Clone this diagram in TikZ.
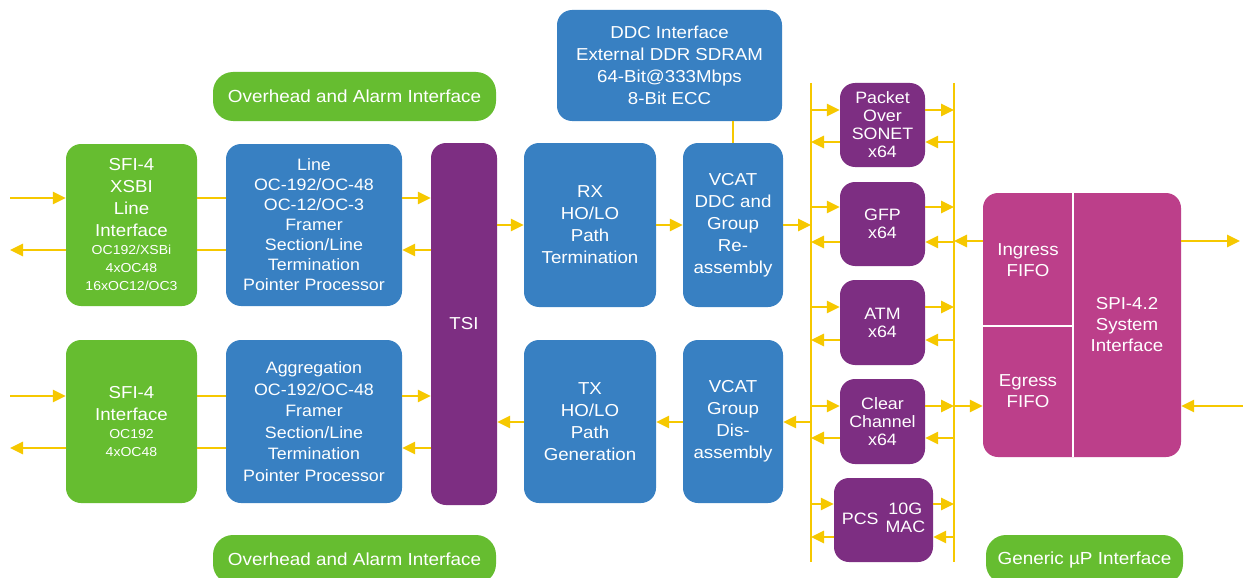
\documentclass[tikz,border=0pt]{standalone}
\usepackage{fontspec}
\setmainfont{Liberation Sans}[FakeStretch=1.08]
\usetikzlibrary{arrows.meta}
\definecolor{blkgreen}{HTML}{66BD30}
\definecolor{blkblue}{HTML}{3880C2}
\definecolor{blkpurple}{HTML}{7D2E82}
\definecolor{blkmagenta}{HTML}{BC3F8A}
\definecolor{busyellow}{HTML}{F6C800}
\newcommand\subtxt[1]{{\fontsize{13}{17}\selectfont #1}}

\begin{document}
\begin{tikzpicture}[x=1pt,y=-1pt,
   blk/.style={rounded corners=15pt, text=white, align=center, inner sep=0pt, font=\fontsize{17.3}{22}\selectfont},
   grn/.style={blk, fill=blkgreen},
   blu/.style={blk, fill=blkblue},
   prp/.style={blk, fill=blkpurple, font=\fontsize{16.5}{18}\selectfont},
   tag/.style={blk, fill=blkgreen, rounded corners=20pt, minimum height=49pt, font=\fontsize{17.5}{21}\selectfont},
   txt/.style={text=white, align=center, inner sep=0pt, font=\fontsize{17.3}{21}\selectfont},
   arr/.style={draw=busyellow, line width=2.6pt, -{Triangle[length=13pt,width=12pt]}},
   ln/.style={draw=busyellow, line width=2.6pt}]
   \clip (0,0) rectangle (1243,578);
   \fill[white] (0,0) rectangle (1243,578);

   % interface tags
   \node[tag, minimum width=283pt] (ohTop) at (354.5,96.5) {Overhead and Alarm Interface};
   \node[tag, minimum width=283pt] (ohBot) at (354.5,559.5) {Overhead and Alarm Interface};
   \node[tag, minimum width=197pt] (gup) at (1084.5,559.5) {Generic µP Interface};

   % line side
   \node[grn, minimum width=131pt, minimum height=162pt] (sfiA) at (131.5,225)
      {SFI-4\\XSBI\\Line\\Interface\\[-4pt]\subtxt{OC192/XSBi}\\[-4pt]\subtxt{4xOC48}\\[-4pt]\subtxt{16xOC12/OC3}};
   \node[grn, minimum width=131pt, minimum height=163pt] (sfiB) at (131.5,421.5)
      {SFI-4\\Interface\\[-4pt]\subtxt{OC192}\\[-4pt]\subtxt{4xOC48}};
   \node[blu, minimum width=176pt, minimum height=162pt, font=\fontsize{16.5}{20}\selectfont] (frmA) at (314,225)
      {Line\\OC-192/OC-48\\OC-12/OC-3\\Framer\\Section/Line\\Termination\\Pointer Processor};
   \node[blu, minimum width=176pt, minimum height=163pt, font=\fontsize{16.5}{21.6}\selectfont] (frmB) at (314,421.5)
      {Aggregation\\OC-192/OC-48\\Framer\\Section/Line\\Termination\\Pointer Processor};
   \node[blk, fill=blkpurple, minimum width=66pt, minimum height=362pt] (tsi) at (464,324) {TSI};

   % path and vcat
   \node[blu, minimum width=132pt, minimum height=164pt] (rx) at (590,225) {RX\\HO/LO\\Path\\Termination};
   \node[blu, minimum width=132pt, minimum height=163pt] (tx) at (590,421.5) {TX\\HO/LO\\Path\\Generation};
   \node[blu, minimum width=100pt, minimum height=164pt] (vcatA) at (733,225) {VCAT\\DDC and\\Group\\Re-\\assembly};
   \node[blu, minimum width=100pt, minimum height=163pt] (vcatB) at (733,421.5) {VCAT\\Group\\Dis-\\assembly};
   \node[blu, minimum width=225pt, minimum height=111pt] (ddc) at (669.5,65.5)
      {DDC Interface\\External DDR SDRAM\\64-Bit@333Mbps\\8-Bit ECC};

   % mappers
   \node[prp, minimum width=85pt, minimum height=84pt] (pos) at (882.5,125) {Packet\\Over\\SONET\\x64};
   \node[prp, minimum width=85pt, minimum height=84pt] (gfp) at (882.5,224) {GFP\\x64};
   \node[prp, minimum width=85pt, minimum height=85pt] (atm) at (882.5,322.5) {ATM\\x64};
   \node[prp, minimum width=85pt, minimum height=85pt] (clr) at (882.5,421.5) {Clear\\Channel\\x64};
   \node[prp, minimum width=99pt, minimum height=84pt] (pcs) at (883.5,520)
      {PCS\hspace{7pt}\begin{tabular}{@{}c@{}}10G\\MAC\end{tabular}};

   % system side
   \node[blk, fill=blkmagenta, minimum width=198pt, minimum height=264pt] (spi) at (1082,325) {};
   \draw[white, line width=1.5pt] (1073,193) -- (1073,457);
   \draw[white, line width=1.5pt] (983,326) -- (1073,326);
   \node[txt] (ingr) at (1028,260) {Ingress\\FIFO};
   \node[txt] (egr) at (1028,391) {Egress\\FIFO};
   \node[txt] (sysif) at (1127,325) {SPI-4.2\\System\\Interface};

   % connectors, line side
   \coordinate (inA) at (10,198);
   \coordinate (outA) at (10,250);
   \coordinate (inB) at (10,396);
   \coordinate (outB) at (10,448);
   \draw[arr] (inA) -- (inA -| sfiA.west);
   \draw[arr] (sfiA.west |- outA) -- (outA);
   \draw[arr] (inB) -- (inB -| sfiB.west);
   \draw[arr] (sfiB.west |- outB) -- (outB);
   \draw[ln] (sfiA.east |- inA) -- (frmA.west |- inA);
   \draw[ln] (sfiA.east |- outA) -- (frmA.west |- outA);
   \draw[ln] (sfiB.east |- inB) -- (frmB.west |- inB);
   \draw[ln] (sfiB.east |- outB) -- (frmB.west |- outB);
   \draw[arr] (frmA.east |- inA) -- (tsi.west |- inA);
   \draw[arr] (tsi.west |- outA) -- (frmA.east |- outA);
   \draw[arr] (frmB.east |- inB) -- (tsi.west |- inB);
   \draw[arr] (tsi.west |- outB) -- (frmB.east |- outB);

   % connectors, path side
   \coordinate (rowA) at (0,225);
   \coordinate (rowB) at (0,422);
   \coordinate (busLt) at (811,83);
   \coordinate (busLb) at (811,562);
   \coordinate (busRt) at (954,83);
   \coordinate (busRb) at (954,562);
   \draw[ln, line width=2.4pt] (busLt) -- (busLb);
   \draw[ln, line width=2.4pt] (busRt) -- (busRb);
   \draw[arr] (tsi.east |- rowA) -- (rx.west |- rowA);
   \draw[arr] (rx.east |- rowA) -- (vcatA.west |- rowA);
   \draw[arr] (vcatA.east |- rowA) -- (busLt |- rowA);
   \draw[arr] (tx.west |- rowB) -- (tsi.east |- rowB);
   \draw[arr] (vcatB.west |- rowB) -- (tx.east |- rowB);
   \draw[arr] (busLt |- rowB) -- (vcatB.east |- rowB);
   \draw[ln, line width=2pt] (vcatA.north) -- (vcatA.north |- ddc.south);

   \foreach \blk/\ya/\yb in {pos/110/142, gfp/207/242, atm/307/340, clr/406/438, pcs/504/537} {
      \draw[arr] (busLt |- 0,\ya) -- (\blk.west |- 0,\ya);
      \draw[arr] (\blk.west |- 0,\yb) -- (busLt |- 0,\yb);
      \draw[arr] (\blk.east |- 0,\ya) -- (busRt |- 0,\ya);
      \draw[arr] (busRt |- 0,\yb) -- (\blk.east |- 0,\yb);
   }

   % connectors, system side
   \coordinate (sysOut) at (1240,241);
   \coordinate (sysIn) at (1243,406);
   \draw[arr] (spi.east |- sysOut) -- (sysOut);
   \draw[arr] (sysIn) -- (sysIn -| spi.east);
   \draw[arr] (spi.west |- sysOut) -- (busRt |- sysOut);
   \draw[arr] (busRt |- sysIn) -- (spi.west |- sysIn);
\end{tikzpicture}
\end{document}
